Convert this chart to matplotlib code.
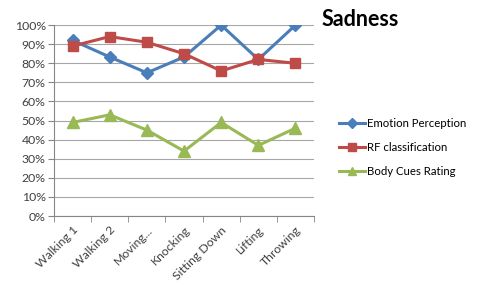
import matplotlib.pyplot as plt
from matplotlib.ticker import PercentFormatter

categories = ['Walking 1', 'Walking 2', 'Moving...', 'Knocking', 'Sitting Down', 'Lifting', 'Throwing']
emotion = [92, 83.3, 75, 83.3, 100, 82, 100]
rf = [89, 94, 91, 85, 76, 82, 80]
body = [49, 53, 45, 34, 49, 37, 46]

plt.rcParams['font.family'] = ['Lato', 'DejaVu Sans']

fig = plt.figure(figsize=(4.78, 2.82), dpi=100)
ax = fig.add_axes([0.113, 0.234, 0.544, 0.677])

x = range(len(categories))
ax.plot(x, emotion, color='#4A7EBB', marker='D', markersize=6, linewidth=2.2, label='Emotion Perception')
ax.plot(x, rf, color='#BE4B48', marker='s', markersize=7.5, linewidth=2.2, label='RF classification')
ax.plot(x, body, color='#98B954', marker='^', markersize=8, linewidth=2.2, label='Body Cues Rating')

ax.set_xlim(-0.5, len(categories) - 0.5)
ax.set_ylim(0, 100)
ax.set_yticks(range(0, 101, 10))
ax.yaxis.set_major_formatter(PercentFormatter(decimals=0))
ax.set_xticks(x)
ax.set_xticklabels(categories, rotation=45, ha='right', rotation_mode='anchor')
ax.set_xticks([i - 0.5 for i in range(len(categories) + 1)], minor=True)
ax.tick_params(axis='x', which='major', length=0, labelsize=8.8, pad=6, colors='#404040')
ax.tick_params(axis='x', which='minor', length=4, color='#868686')
ax.tick_params(axis='y', length=4, color='#868686', labelcolor='#404040', labelsize=8.8, pad=2)

ax.grid(axis='y', color='#A6A6A6', linewidth=0.8)
ax.set_axisbelow(True)
for s in ['top', 'right']:
    ax.spines[s].set_visible(False)
ax.spines['left'].set_color('#868686')
ax.spines['bottom'].set_color('#868686')

fig.text(0.672, 0.93, 'Sadness', fontsize=15.5, fontweight='bold', va='center')
ax.legend(loc='center left', bbox_to_anchor=(1.055, 0.357), frameon=False, fontsize=8.2,
          handlelength=2.3, labelspacing=1.15, handletextpad=0.15, markerscale=0.8)

fig.savefig('out.png', dpi=100)
